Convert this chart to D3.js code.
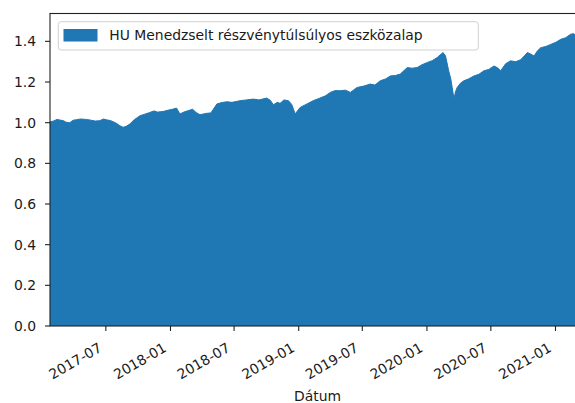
<!DOCTYPE html>
<html>
<head>
<meta charset="utf-8">
<script src="https://cdn.jsdelivr.net/npm/d3@7"></script>
<style>
  body { margin: 0; background: #fff; }
  text { font-family: "DejaVu Sans", sans-serif; fill: #1a1a1a; }
</style>
</head>
<body>
<svg width="575" height="403"></svg>
<script>
const width = 575;
const height = 403;

const seriesName = "HU Menedzselt részvénytúlsúlyos eszközalap";

const dates = [
  "2017-01-23", "2017-02-02", "2017-02-12", "2017-02-20", "2017-03-02", "2017-03-10",
  "2017-03-20", "2017-03-30", "2017-04-09", "2017-04-20", "2017-05-07", "2017-05-20",
  "2017-06-01", "2017-06-14", "2017-06-24", "2017-07-03", "2017-07-15", "2017-07-31",
  "2017-08-10", "2017-08-19", "2017-08-28", "2017-09-07", "2017-09-20", "2017-10-06",
  "2017-10-20", "2017-11-03", "2017-11-15", "2017-11-25", "2017-12-11", "2017-12-22",
  "2018-01-09", "2018-01-18", "2018-01-28", "2018-02-08", "2018-02-20", "2018-03-05",
  "2018-03-15", "2018-03-26", "2018-04-14", "2018-04-26", "2018-05-13", "2018-05-25",
  "2018-06-10", "2018-06-25", "2018-07-18", "2018-08-05", "2018-08-25", "2018-09-10",
  "2018-10-02", "2018-10-12", "2018-10-21", "2018-11-01", "2018-11-09", "2018-11-20",
  "2018-12-03", "2018-12-12", "2018-12-22", "2019-01-05", "2019-01-22", "2019-02-11",
  "2019-03-01", "2019-03-18", "2019-04-01", "2019-04-15", "2019-04-29", "2019-05-14",
  "2019-05-28", "2019-06-16", "2019-07-05", "2019-07-24", "2019-08-06", "2019-08-21",
  "2019-09-05", "2019-09-19", "2019-10-03", "2019-10-17", "2019-11-06", "2019-11-20",
  "2019-12-04", "2019-12-18", "2020-01-02", "2020-01-16", "2020-01-30", "2020-02-08",
  "2020-02-16", "2020-02-23", "2020-03-03", "2020-03-09", "2020-03-13", "2020-03-18",
  "2020-03-22", "2020-03-27", "2020-04-06", "2020-04-15", "2020-04-28", "2020-05-14",
  "2020-05-28", "2020-06-11", "2020-06-25", "2020-07-10", "2020-07-20", "2020-07-29",
  "2020-08-12", "2020-08-26", "2020-09-10", "2020-09-24", "2020-10-05", "2020-10-13",
  "2020-10-22", "2020-11-01", "2020-11-10", "2020-11-20", "2020-12-05", "2020-12-18",
  "2021-01-02", "2021-01-16", "2021-01-30", "2021-02-13", "2021-02-22", "2021-02-28",
  "2021-03-10", "2021-03-26"
];

const values = [
  1.004, 1.008, 1.016, 1.013, 1.010, 1.002,
  1.000, 1.012, 1.015, 1.018, 1.016, 1.012,
  1.008, 1.010, 1.018, 1.014, 1.010, 0.997,
  0.985, 0.977, 0.982, 0.993, 1.015, 1.034,
  1.042, 1.050, 1.058, 1.052, 1.055, 1.060,
  1.067, 1.072, 1.043, 1.052, 1.059, 1.066,
  1.050, 1.039, 1.046, 1.048, 1.092, 1.098,
  1.103, 1.100, 1.108, 1.112, 1.116, 1.112,
  1.121, 1.110, 1.088, 1.100, 1.095, 1.112,
  1.108, 1.090, 1.043, 1.075, 1.090, 1.108,
  1.120, 1.132, 1.149, 1.158, 1.157, 1.160,
  1.149, 1.173, 1.180, 1.190, 1.185, 1.206,
  1.215, 1.230, 1.232, 1.239, 1.271, 1.268,
  1.271, 1.285, 1.296, 1.305, 1.320, 1.334,
  1.345, 1.328, 1.255, 1.215, 1.173, 1.116,
  1.150, 1.173, 1.195, 1.206, 1.215, 1.230,
  1.238, 1.255, 1.262, 1.279, 1.270, 1.255,
  1.290, 1.304, 1.300, 1.310, 1.330, 1.345,
  1.338, 1.328, 1.352, 1.369, 1.375, 1.385,
  1.395, 1.410, 1.418, 1.435, 1.438, 1.426,
  1.432, 1.440
];

const xTicks = ["2017-07", "2018-01", "2018-07", "2019-01", "2019-07", "2020-01", "2020-07", "2021-01"];
const yTicks = [0, 0.2, 0.4, 0.6, 0.8, 1.0, 1.2, 1.4];

const parse = d3.timeParse("%Y-%m-%d");
const parseMonth = d3.timeParse("%Y-%m");
const data = dates.map((d, i) => ({ date: parse(d), value: values[i] }));

const margin = { left: 50, top: 13.5, right: 585, bottom: 326 };

const x = d3.scaleTime()
  .domain([parse("2017-01-23"), parse("2021-03-26")])
  .range([margin.left, margin.right]);

const y = d3.scaleLinear()
  .domain([0, 1.537])
  .range([margin.bottom, margin.top]);

const svg = d3.select("svg");
const blue = "#1f77b4";

svg.append("clipPath").attr("id", "clip")
  .append("rect")
  .attr("x", margin.left).attr("y", margin.top)
  .attr("width", margin.right - margin.left)
  .attr("height", margin.bottom - margin.top);

const plot = svg.append("g").attr("clip-path", "url(#clip)");

plot.append("path")
  .datum(data)
  .attr("fill", blue)
  .attr("d", d3.area().x(d => x(d.date)).y0(y(0)).y1(d => y(d.value)));

plot.append("path")
  .datum(data)
  .attr("fill", "none")
  .attr("stroke", blue)
  .attr("stroke-width", 1)
  .attr("d", d3.line().x(d => x(d.date)).y(d => y(d.value)));

// spines
svg.append("rect")
  .attr("x", margin.left).attr("y", margin.top)
  .attr("width", margin.right - margin.left)
  .attr("height", margin.bottom - margin.top)
  .attr("fill", "none")
  .attr("stroke", "#222")
  .attr("stroke-width", 1.1);

// y axis
const yg = svg.append("g");
yTicks.forEach(t => {
  yg.append("line")
    .attr("x1", margin.left - 5).attr("x2", margin.left)
    .attr("y1", y(t)).attr("y2", y(t))
    .attr("stroke", "#222").attr("stroke-width", 1.1);
  yg.append("text")
    .attr("x", 36).attr("y", y(t))
    .attr("dy", "0.36em")
    .attr("text-anchor", "end")
    .style("font-size", "13.9px")
    .text(d3.format(".1f")(t));
});

// x axis
const xg = svg.append("g");
xTicks.forEach(t => {
  const px = x(parseMonth(t));
  xg.append("line")
    .attr("x1", px).attr("x2", px)
    .attr("y1", margin.bottom).attr("y2", margin.bottom + 5)
    .attr("stroke", "#222").attr("stroke-width", 1.1);
  xg.append("text")
    .attr("transform", `translate(${px - 8},${342}) rotate(-30)`)
    .attr("dy", "0.72em")
    .attr("text-anchor", "end")
    .style("font-size", "13.9px")
    .text(t);
});

svg.append("text")
  .attr("x", (margin.left + margin.right) / 2)
  .attr("y", 401)
  .attr("text-anchor", "middle")
  .style("font-size", "13.9px")
  .text("Dátum");

// legend
const lg = svg.append("g");
lg.append("rect")
  .attr("x", 58.3).attr("y", 21.7)
  .attr("width", 420).attr("height", 28.3)
  .attr("rx", 3)
  .attr("fill", "#fff").attr("fill-opacity", 0.8)
  .attr("stroke", "#d0d0d0").attr("stroke-width", 1);
lg.append("rect")
  .attr("x", 63.5).attr("y", 29)
  .attr("width", 34).attr("height", 12.5)
  .attr("fill", blue);
lg.append("text")
  .attr("x", 109.3).attr("y", 40)
  .style("font-size", "13.9px")
  .text(seriesName);
</script>
</body>
</html>
